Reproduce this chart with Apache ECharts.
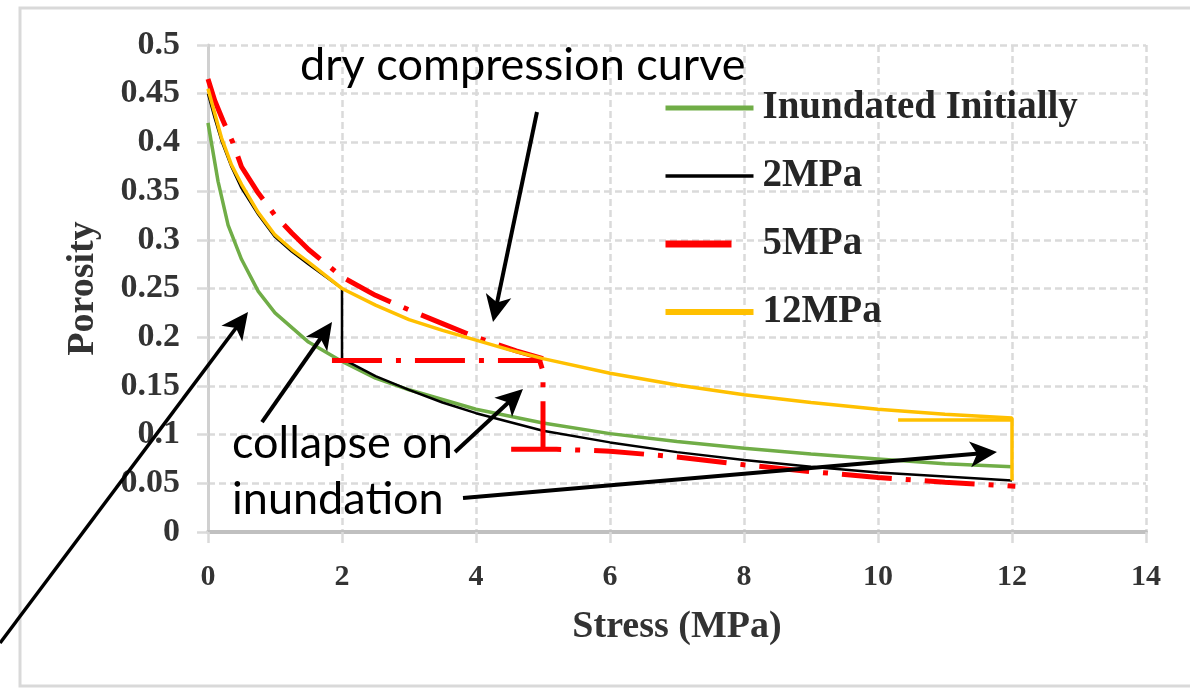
<!DOCTYPE html>
<html>
<head>
<meta charset="utf-8">
<script src="https://cdn.jsdelivr.net/npm/echarts@6/dist/echarts.min.js"></script>
<style>
html, body { margin: 0; padding: 0; background: #fff; }
#chart { width: 1190px; height: 688px; }
</style>
</head>
<body>
<div id="chart"></div>
<script>
// 数据
var seriesNames = ['Inundated Initially', '2MPa', '5MPa', '12MPa'];

var greenStress   = [0, 0.05, 0.15, 0.3, 0.5, 0.75, 1, 1.5, 2, 2.5, 3, 4, 5, 6, 7, 8, 9, 10, 11, 12];
var greenPorosity = [0.42, 0.40, 0.36, 0.315, 0.28, 0.247, 0.225, 0.195, 0.175, 0.158, 0.146, 0.126, 0.112, 0.101, 0.093, 0.086, 0.08, 0.075, 0.07, 0.067];

var blackStress   = [0, 0.1, 0.2, 0.35, 0.5, 0.75, 1, 1.25, 1.5, 2, 2, 2.5, 3, 3.5, 4, 5, 6, 7, 8, 9, 10, 11, 12];
var blackPorosity = [0.45, 0.425, 0.402, 0.375, 0.353, 0.326, 0.303, 0.288, 0.275, 0.25, 0.178, 0.16, 0.146, 0.133, 0.122, 0.104, 0.092, 0.082, 0.074, 0.067, 0.061, 0.057, 0.053];

var redStress   = [0, 0.1, 0.22, 0.37, 0.5, 0.75, 1, 1.25, 1.5, 2, 2.5, 3, 3.5, 4, 4.6, 5];
var redPorosity = [0.465, 0.443, 0.423, 0.4, 0.375, 0.348, 0.325, 0.307, 0.29, 0.262, 0.243, 0.228, 0.214, 0.2, 0.186, 0.178];
var redCollapseStress   = [1.85, 4.95, 5, 5, 4.5, 5.2, 6, 7, 8, 9, 10, 11, 12.05];
var redCollapsePorosity = [0.176, 0.176, 0.165, 0.085, 0.085, 0.085, 0.083, 0.077, 0.069, 0.062, 0.056, 0.051, 0.047];

var yellowStress   = [0, 0.1, 0.2, 0.35, 0.5, 0.75, 1, 1.25, 1.5, 2, 2.5, 3, 3.5, 4, 4.5, 5, 6, 7, 8, 9, 10, 11, 12, 12];
var yellowPorosity = [0.455, 0.43, 0.405, 0.377, 0.357, 0.328, 0.305, 0.29, 0.277, 0.25, 0.233, 0.218, 0.207, 0.197, 0.187, 0.178, 0.163, 0.151, 0.141, 0.133, 0.126, 0.121, 0.117, 0.053];
var yellowTailStress   = [10.3, 12];
var yellowTailPorosity = [0.115, 0.115];

// 注释 (数据坐标)
var arrowFrom = [[4.91, 0.4312], [-3.104, -0.114], [0.806, 0.1129], [3.687, 0.0821], [3.806, 0.0349]];
var arrowTo   = [[4.254, 0.2156], [0.597, 0.2259], [1.851, 0.2156], [4.701, 0.1468], [11.776, 0.0821]];
var arrowWidth = [4, 3.5, 4, 4, 4];

function pairs(xs, ys) {
	var out = [];
	for (var i = 0; i < xs.length; i++) {
		out.push([xs[i], ys[i]]);
	}
	return out;
}

var serif = 'Liberation Serif';
var gridLine = { color: '#dadada', width: 2.5, type: [7, 4] };
var redDash = [50, 14, 5, 14];

var myChart = echarts.init(document.getElementById('chart'));
var option = {
	backgroundColor: '#fff',
	animation: false,
	grid: { left: 208, right: 44, top: 45, bottom: 156 },
	legend: {
		data: [
			{ name: seriesNames[0], lineStyle: { width: 5 } },
			{ name: seriesNames[1], lineStyle: { width: 3.5 } },
			{ name: seriesNames[2], lineStyle: { type: [66, 40], width: 7 } },
			{ name: seriesNames[3], lineStyle: { width: 6 } }
		],
		orient: 'vertical',
		left: 662,
		top: 88,
		padding: 0,
		itemWidth: 88,
		itemHeight: 14,
		itemGap: 28,
		itemStyle: { opacity: 0 },
		textStyle: { fontFamily: serif, fontWeight: 'bold', fontSize: 39, lineHeight: 40, color: '#262626', padding: [0, 0, 0, 4] }
	},
	xAxis: {
		type: 'value',
		min: 0,
		max: 14,
		interval: 2,
		name: 'Stress (MPa)',
		nameLocation: 'middle',
		nameGap: 76,
		nameTextStyle: { fontFamily: serif, fontWeight: 'bold', fontSize: 38, color: '#333' },
		axisLine: { lineStyle: { color: '#c0c0c0', width: 4 } },
		axisTick: { show: true, length: 11, lineStyle: { color: '#dadada', width: 2.5 } },
		axisLabel: { margin: 30, fontSize: 30, fontFamily: serif, fontWeight: 'bold', color: '#333' },
		splitLine: { show: true, lineStyle: gridLine }
	},
	yAxis: {
		type: 'value',
		min: 0,
		max: 0.5,
		interval: 0.05,
		name: 'Porosity',
		nameLocation: 'middle',
		nameRotate: 90,
		nameGap: 106,
		nameTextStyle: { fontFamily: serif, fontWeight: 'bold', fontSize: 38, color: '#333' },
		axisLine: { show: true, lineStyle: { color: '#d0d0d0', width: 3 } },
		axisTick: { show: true, length: 11, lineStyle: { color: '#dadada', width: 2.5 } },
		axisLabel: {
			margin: 28,
			fontSize: 34,
			fontFamily: serif,
			fontWeight: 'bold',
			color: '#333',
			formatter: function (v) { return String(+v.toFixed(2)); }
		},
		splitLine: { show: true, lineStyle: gridLine }
	},
	series: [
		{
			name: seriesNames[0], type: 'line', symbol: 'none',
			color: '#70ad47',
			lineStyle: { color: '#70ad47', width: 3.5 },
			data: pairs(greenStress, greenPorosity)
		},
		{
			name: seriesNames[1], type: 'line', symbol: 'none',
			color: '#000000',
			lineStyle: { color: '#000000', width: 2.5 },
			data: pairs(blackStress, blackPorosity)
		},
		{
			name: seriesNames[2], type: 'line', symbol: 'none',
			color: '#ff0000',
			lineStyle: { color: '#ff0000', width: 5, type: redDash },
			data: pairs(redStress, redPorosity)
		},
		{
			name: seriesNames[2], type: 'line', symbol: 'none',
			color: '#ff0000',
			lineStyle: { color: '#ff0000', width: 5, type: redDash },
			data: pairs(redCollapseStress, redCollapsePorosity)
		},
		{
			name: seriesNames[3], type: 'line', symbol: 'none',
			color: '#ffc000',
			lineStyle: { color: '#ffc000', width: 3.5 },
			data: pairs(yellowStress, yellowPorosity)
		},
		{
			name: seriesNames[3], type: 'line', symbol: 'none',
			color: '#ffc000',
			lineStyle: { color: '#ffc000', width: 3.5 },
			data: pairs(yellowTailStress, yellowTailPorosity)
		}
	]
};
myChart.setOption(option);

// 箭头和文字
var graphics = [
	{
		type: 'rect', z: -1, silent: true,
		shape: { x: 20, y: 8, width: 1200, height: 678 },
		style: { fill: 'none', stroke: '#d9d9d9', lineWidth: 3 }
	}
];
var noteFont = '45px Lato';
var notes = [
	{ text: 'dry compression curve', x: 300, y: 65 },
	{ text: 'collapse on', x: 232, y: 443 },
	{ text: 'inundation', x: 232, y: 499 }
];
for (var i = 0; i < notes.length; i++) {
	graphics.push({
		type: 'text', z: 100,
		x: notes[i].x, y: notes[i].y,
		style: { text: notes[i].text, font: noteFont, fill: '#000', verticalAlign: 'middle', align: 'left' }
	});
}
for (var j = 0; j < arrowFrom.length; j++) {
	var p0 = myChart.convertToPixel({ gridIndex: 0 }, arrowFrom[j]);
	var p1 = myChart.convertToPixel({ gridIndex: 0 }, arrowTo[j]);
	var dx = p1[0] - p0[0], dy = p1[1] - p0[1];
	var len = Math.sqrt(dx * dx + dy * dy);
	var ux = dx / len, uy = dy / len;
	var nx = -uy, ny = ux;
	var L = 27, W = 13, notch = 7;
	var base = [p1[0] - (L - notch) * ux, p1[1] - (L - notch) * uy];
	graphics.push({
		type: 'line', z: 100,
		shape: { x1: p0[0], y1: p0[1], x2: base[0] + ux * 2, y2: base[1] + uy * 2 },
		style: { stroke: '#000', lineWidth: arrowWidth[j] }
	});
	graphics.push({
		type: 'polygon', z: 100,
		shape: {
			points: [
				[p1[0], p1[1]],
				[p1[0] - L * ux + W * nx, p1[1] - L * uy + W * ny],
				base,
				[p1[0] - L * ux - W * nx, p1[1] - L * uy - W * ny]
			]
		},
		style: { fill: '#000' }
	});
}
myChart.setOption({ graphic: graphics });
</script>
</body>
</html>
